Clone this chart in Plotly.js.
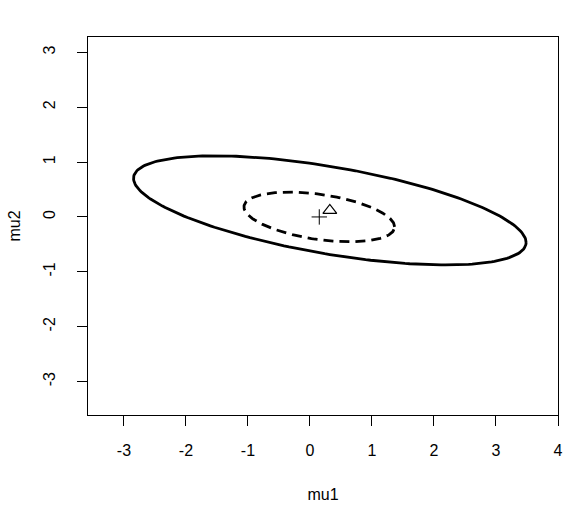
<!DOCTYPE html>
<html>
<head>
<meta charset="utf-8">
<script src="https://cdn.plot.ly/plotly-3.0.1.min.js"></script>
<style>html,body{margin:0;padding:0;background:#fff;}#plot{width:568px;height:516px;}</style>
</head>
<body>
<div id="plot"></div>
<script>
// Estimated summary values
var outerCenter = [0.32, 0.12];            // triangle: centre of the solid ellipse
var outerCov = [[10.02, -1.85], [-1.85, 0.99]];
var innerCenter = [0.15, 0.0];             // plus: centre of the dashed ellipse
var innerCov = [[1.476, -0.221], [-0.221, 0.205]];
var xTicks = [-3, -2, -1, 0, 1, 2, 3, 4];
var yTicks = [-3, -2, -1, 0, 1, 2, 3];

function ellipse(c, S, n) {
  var l11 = Math.sqrt(S[0][0]);
  var l21 = S[1][0] / l11;
  var l22 = Math.sqrt(S[1][1] - l21 * l21);
  var xs = [], ys = [];
  for (var i = 0; i <= n; i++) {
    var t = 2 * Math.PI * i / n;
    var u = Math.cos(t), v = Math.sin(t);
    xs.push(c[0] + l11 * u);
    ys.push(c[1] + l21 * u + l22 * v);
  }
  return {x: xs, y: ys};
}

var eo = ellipse(outerCenter, outerCov, 240);
var ei = ellipse(innerCenter, innerCov, 240);

var traces = [
  {x: eo.x, y: eo.y, mode: 'lines', line: {color: '#000', width: 2.8}, hoverinfo: 'skip'},
  {x: ei.x, y: ei.y, mode: 'lines', line: {color: '#000', width: 2.8, dash: '10px,6px'}, hoverinfo: 'skip'},
  {x: [innerCenter[0]], y: [innerCenter[1]], mode: 'markers',
   marker: {symbol: 'cross-thin-open', size: 11, color: '#000', line: {color: '#000', width: 1}}},
  {x: [outerCenter[0]], y: [outerCenter[1]], mode: 'markers',
   marker: {symbol: 'triangle-up-open', size: 12, color: '#000', line: {color: '#000', width: 1.2}}}
];

var font = {family: 'Liberation Sans, Arial, sans-serif', size: 16, color: '#000'};

var layout = {
  width: 568, height: 516,
  margin: {l: 88, r: 10, t: 37, b: 101},
  paper_bgcolor: '#fff', plot_bgcolor: '#fff',
  showlegend: false,
  font: font,
  xaxis: {
    range: [-3.58, 4.0], tickvals: xTicks, ticktext: xTicks.map(String),
    showgrid: false, zeroline: false, showline: true, mirror: true,
    linecolor: '#000', linewidth: 1, ticks: 'outside', ticklen: 10, tickcolor: '#000', tickwidth: 1,
    tickfont: font, ticklabelstandoff: 11,
    title: {text: 'mu1', font: font, standoff: 30}
  },
  yaxis: {
    range: [-3.61, 3.28], tickvals: yTicks, ticktext: yTicks.map(String),
    showgrid: false, zeroline: false, showline: true, mirror: true,
    linecolor: '#000', linewidth: 1, ticks: 'outside', ticklen: 10, tickcolor: '#000', tickwidth: 1,
    tickangle: -90, tickfont: font, ticklabelstandoff: 16,
    title: {text: 'mu2', font: font, standoff: 15}
  }
};

Plotly.newPlot('plot', traces, layout, {staticPlot: true, displayModeBar: false});
</script>
</body>
</html>
